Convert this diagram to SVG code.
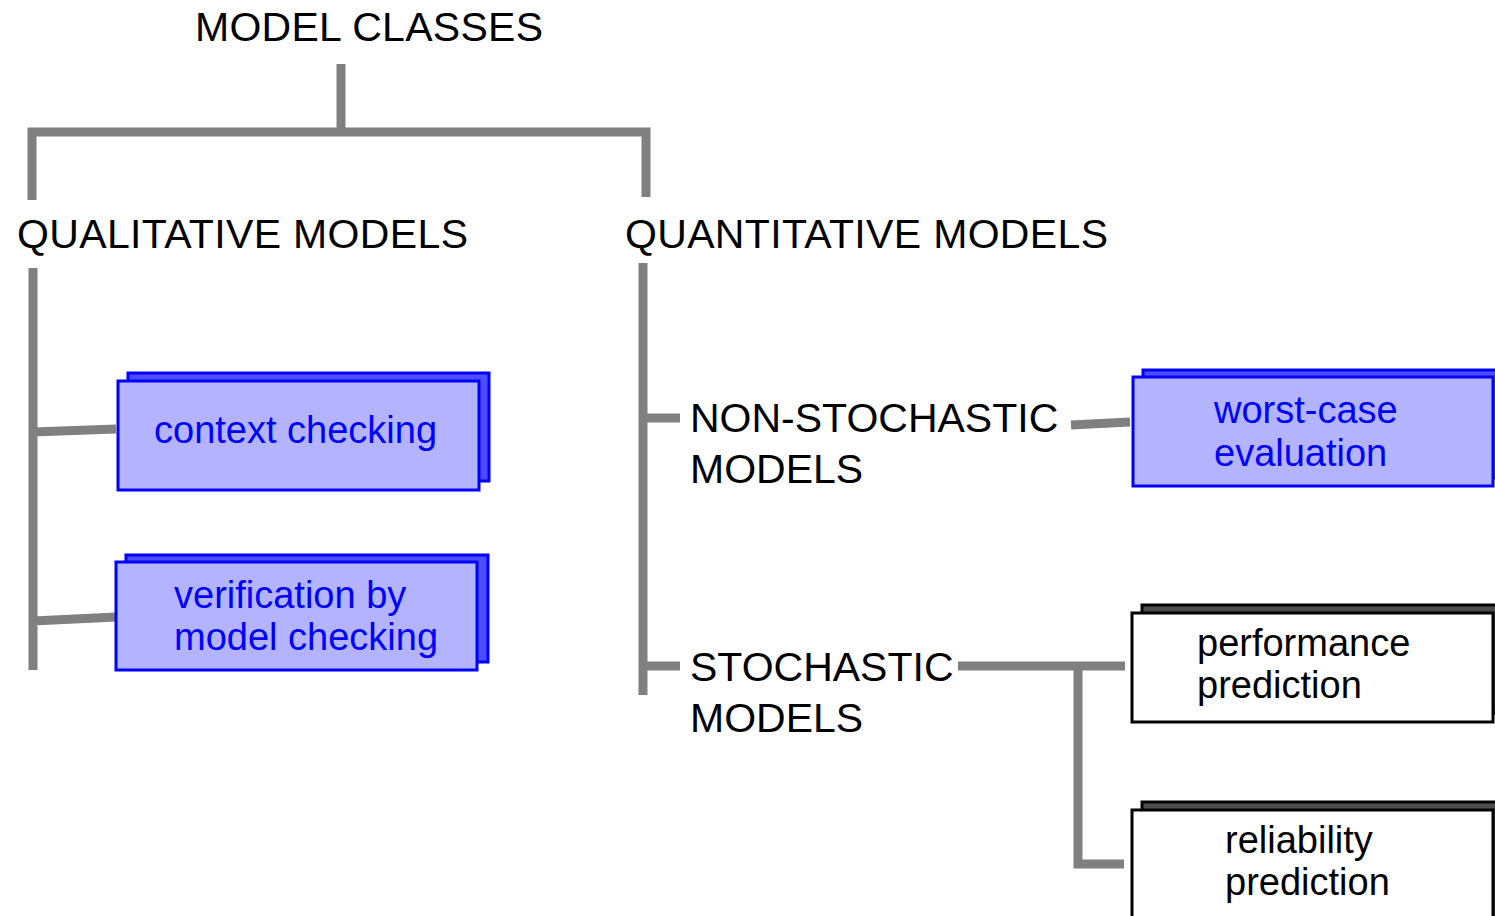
<svg xmlns="http://www.w3.org/2000/svg" width="1495" height="916" viewBox="0 0 1495 916">
<style>
.h{font-family:"Liberation Sans",Arial,sans-serif;font-size:41px;fill:#000}
.b{font-family:"Liberation Sans",Arial,sans-serif;font-size:38px;fill:#0000ff}
.k{font-family:"Liberation Sans",Arial,sans-serif;font-size:38px;fill:#000}
.ln{stroke:#808080;stroke-width:9;fill:none}
.bf{fill:#b3b3ff;stroke:#0000ff;stroke-width:3}
.bb{fill:#4d4dff;stroke:#0000ff;stroke-width:3}
.wf{fill:#fff;stroke:#000;stroke-width:3}
.wb{fill:#4d4d4d;stroke:#000;stroke-width:3}
</style>
<g id="connectors">
<path class="ln" d="M341 64V132M32 200V132H646V197"/>
<path class="ln" d="M33 268V670M33 432L116 429M33 621L116 617"/>
<path class="ln" d="M643 263V695M643 418H680M643 666H680"/>
<path class="ln" d="M1071 425L1130 422"/>
<path class="ln" d="M958 666H1125M1078 666V864H1124"/>
</g>
<g id="model-classes"><text class="h" x="195" y="41" textLength="348">MODEL CLASSES</text></g>
<g id="qualitative"><text class="h" x="17" y="248" textLength="451">QUALITATIVE MODELS</text></g>
<g id="quantitative"><text class="h" x="625" y="248" textLength="483">QUANTITATIVE MODELS</text></g>
<g id="non-stochastic"><text class="h" x="690" y="432">NON-STOCHASTIC</text><text class="h" x="690" y="483">MODELS</text></g>
<g id="stochastic"><text class="h" x="690" y="681">STOCHASTIC</text><text class="h" x="690" y="732">MODELS</text></g>
<g id="context-checking">
<rect class="bb" x="128" y="373" width="361" height="108"/>
<rect class="bf" x="118" y="381" width="361" height="109"/>
<text class="b" x="154" y="443">context checking</text>
</g>
<g id="verification">
<rect class="bb" x="126" y="555" width="362" height="107"/>
<rect class="bf" x="116" y="562" width="361" height="108"/>
<text class="b" x="174" y="608">verification by</text>
<text class="b" x="174" y="650">model checking</text>
</g>
<g id="worst-case">
<rect class="bb" x="1143" y="370" width="360" height="108"/>
<rect class="bf" x="1133" y="377" width="360" height="109"/>
<text class="b" x="1214" y="423">worst-case</text>
<text class="b" x="1214" y="466">evaluation</text>
</g>
<g id="performance">
<rect class="wb" x="1142" y="605" width="360" height="108"/>
<rect class="wf" x="1132" y="613" width="361" height="109"/>
<text class="k" x="1197" y="656">performance</text>
<text class="k" x="1197" y="698">prediction</text>
</g>
<g id="reliability">
<rect class="wb" x="1142" y="802" width="360" height="120"/>
<rect class="wf" x="1132" y="810" width="361" height="120"/>
<text class="k" x="1225" y="853">reliability</text>
<text class="k" x="1225" y="895">prediction</text>
</g>
</svg>
